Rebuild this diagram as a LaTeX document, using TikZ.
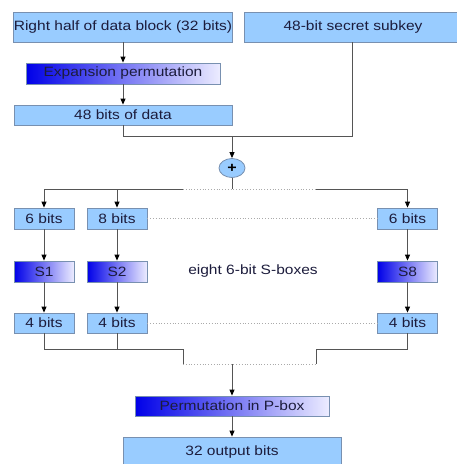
\documentclass[tikz,border=0pt]{standalone}
\usepackage{fontspec}
\setmainfont[FakeStretch=1.15]{Liberation Sans}
\usetikzlibrary{shapes.geometric,arrows.meta}
\definecolor{boxfill}{HTML}{99CCFF}
\definecolor{boxline}{HTML}{7890B0}
\definecolor{txt}{HTML}{1C1C3C}
\definecolor{ln}{HTML}{555555}
\definecolor{gradL}{HTML}{0000E8}
\definecolor{gradR}{HTML}{ECECFF}
\tikzset{
  bluebox/.style={draw=boxline, fill=boxfill, line width=0.8pt, inner sep=0pt, text=txt, font=\fontsize{13.5}{15}\selectfont},
  gradbox/.style={draw=boxline, left color=gradL, right color=gradR, shading angle=90, line width=0.8pt, inner sep=0pt, text=txt, font=\fontsize{13.5}{15}\selectfont},
  conn/.style={draw=ln, line width=0.8pt},
  arr/.style={conn, -{Triangle[width=5pt,length=6pt,color=black]}},
  dots/.style={draw=ln!50, line width=0.8pt, dotted},
}
\begin{document}
\begin{tikzpicture}[x=1pt,y=-1pt]
\useasboundingbox[fill=white] (0,0) rectangle (457,464);
% top row
\node[bluebox, minimum width=218pt, minimum height=30pt] (rh) at (123,27) {Right half of data block (32 bits)};
\node[bluebox, minimum width=218pt, minimum height=30pt] (key) at (353,27) {48-bit secret subkey};
\node[gradbox, minimum width=194pt, minimum height=21pt] (exp) at (123,73.5) {Expansion permutation};
\node[bluebox, minimum width=218pt, minimum height=20pt] (d48) at (123,115) {48 bits of data};
\node[ellipse, draw=boxline, fill=boxfill, line width=0.8pt, minimum width=26pt, minimum height=19pt, inner sep=0pt, text=black, font=\fontsize{14}{14}\selectfont\bfseries] (xor) at (232,168) {+};
\coordinate (j1) at (123,136);
\coordinate (j2) at (352,136);
\coordinate (j3) at (232,136);
\draw[arr] (rh) -- (exp);
\draw[arr] (exp) -- (d48);
\draw[conn] (d48.south) -- (j1) -- (j2) -- (key.south -| j2);
\draw[arr] (j3) -- (xor.north);
% split
\coordinate (sp) at (232,189);
\coordinate (sa) at (44,189);
\coordinate (sb) at (117,189);
\coordinate (sc) at (407.5,189);
\coordinate (d1) at (183,189);
\coordinate (d2) at (316,189);
\draw[conn] (xor.south) -- (sp);
\draw[conn] (sa) -- (d1);
\draw[dots] (d1) -- (d2);
\draw[conn] (d2) -- (sc);
% 6 bit boxes
\node[bluebox, minimum width=60pt, minimum height=21pt] (a6) at (44,218.5) {6 bits};
\node[bluebox, minimum width=60pt, minimum height=21pt] (b8) at (117,218.5) {8 bits};
\node[bluebox, minimum width=60pt, minimum height=21pt] (c6) at (407.5,218.5) {6 bits};
\draw[arr] (sa) -- (a6);
\draw[arr] (sb) -- (b8);
\draw[arr] (sc) -- (c6);
\draw[dots] (b8.east) -- (c6.west);
% S boxes
\node[gradbox, minimum width=60pt, minimum height=21pt] (s1) at (44,271.5) {S1};
\node[gradbox, minimum width=60pt, minimum height=21pt] (s2) at (117,271.5) {S2};
\node[gradbox, minimum width=60pt, minimum height=21pt] (s8) at (407.5,271.5) {S8};
\node[text=txt, font=\fontsize{13.5}{15}\selectfont] (lab) at (253,271) {eight 6-bit S-boxes};
\draw[arr] (a6) -- (s1);
\draw[arr] (b8) -- (s2);
\draw[arr] (c6) -- (s8);
% 4 bit boxes
\node[bluebox, minimum width=60pt, minimum height=20pt] (a4) at (44,323) {4 bits};
\node[bluebox, minimum width=60pt, minimum height=20pt] (b4) at (117,323) {4 bits};
\node[bluebox, minimum width=60pt, minimum height=20pt] (c4) at (407.5,323) {4 bits};
\draw[arr] (s1) -- (a4);
\draw[arr] (s2) -- (b4);
\draw[arr] (s8) -- (c4);
\draw[dots] (b4.east) -- (c4.west);
% merge
\coordinate (ma) at (44,349);
\coordinate (mb) at (117,349);
\coordinate (mc) at (407.5,349);
\coordinate (m1) at (183,349);
\coordinate (m2) at (316,349);
\coordinate (n1) at (183,364);
\coordinate (n2) at (316,364);
\coordinate (nm) at (232,364);
\draw[conn] (a4.south) -- (ma) -- (m1) -- (n1);
\draw[conn] (b4.south) -- (mb);
\draw[conn] (c4.south) -- (mc) -- (m2) -- (n2);
\draw[dots] (n1) -- (n2);
% P-box and output
\node[gradbox, minimum width=194pt, minimum height=20pt] (pbox) at (232,406) {Permutation in P-box};
\node[bluebox, minimum width=218pt, minimum height=30pt] (out) at (232,452) {32 output bits};
\draw[arr] (nm) -- (pbox);
\draw[arr] (pbox) -- (out);
\end{tikzpicture}
\end{document}
